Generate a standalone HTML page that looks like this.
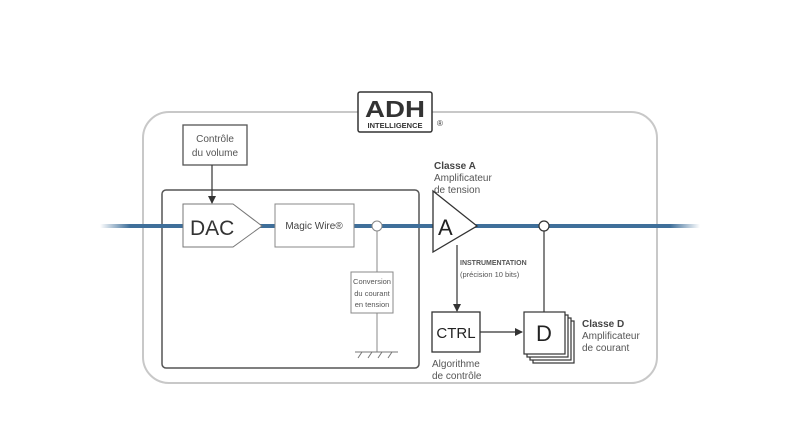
<!DOCTYPE html>
<html><head><style>
body{margin:0;background:#fff;}
svg text{font-family:"Liberation Sans",sans-serif;}
</style></head><body>
<svg width="800" height="425" viewBox="0 0 800 425" xmlns="http://www.w3.org/2000/svg">
<defs>
<linearGradient id="bl" x1="100" x2="700" y1="0" y2="0" gradientUnits="userSpaceOnUse">
<stop offset="0" stop-color="#3f6f9a" stop-opacity="0"/>
<stop offset="0.05" stop-color="#3f6f9a"/>
<stop offset="0.95" stop-color="#3f6f9a"/>
<stop offset="1" stop-color="#3f6f9a" stop-opacity="0"/>
</linearGradient>
<marker id="ar" markerWidth="8" markerHeight="8" refX="7" refY="4" orient="auto" markerUnits="userSpaceOnUse">
<path d="M0,0 L8,4 L0,8 z" fill="#333"/></marker>
</defs>
<rect x="143" y="112" width="514" height="271" rx="26" fill="none" stroke="#c8c8c8" stroke-width="2"/>
<rect x="162" y="190" width="257" height="178" rx="4" fill="none" stroke="#555" stroke-width="1.5"/>
<rect x="100" y="224" width="600" height="4" fill="url(#bl)"/>
<!-- logo -->
<rect x="358" y="92" width="74" height="40" rx="2" fill="#fff" stroke="#333" stroke-width="1.5"/>
<text x="395" y="117" font-size="23" font-weight="bold" text-anchor="middle" fill="#333" textLength="60" lengthAdjust="spacingAndGlyphs">ADH</text>
<text x="395" y="128" font-size="7.5" font-weight="bold" text-anchor="middle" fill="#333">INTELLIGENCE</text>
<text x="440" y="126" font-size="8" fill="#333" text-anchor="middle">®</text>
<!-- controle -->
<rect x="183" y="125" width="64" height="40" fill="#fff" stroke="#555" stroke-width="1.3"/>
<text x="215" y="142" font-size="10" text-anchor="middle" fill="#555">Contrôle</text>
<text x="215" y="156" font-size="10" text-anchor="middle" fill="#555">du volume</text>
<line x1="212" y1="165" x2="212" y2="203" stroke="#333" stroke-width="1.2" marker-end="url(#ar)"/>
<!-- DAC -->
<path d="M183,204 L233,204 L262,226 L233,247 L183,247 z" fill="#fff" stroke="#777" stroke-width="1"/>
<text x="190" y="235" font-size="21" fill="#333">DAC</text>
<rect x="275" y="204" width="79" height="43" fill="#fff" stroke="#888" stroke-width="1"/>
<text x="314" y="229" font-size="10" text-anchor="middle" fill="#444">Magic Wire®</text>
<line x1="377" y1="226" x2="377" y2="352" stroke="#888" stroke-width="1"/>
<circle cx="377" cy="226" r="5" fill="#fff" stroke="#888" stroke-width="1"/>
<rect x="351" y="272" width="42" height="41" fill="#fff" stroke="#888" stroke-width="1"/>
<text x="372" y="284" font-size="7.5" text-anchor="middle" fill="#555">Conversion</text>
<text x="372" y="296" font-size="7.5" text-anchor="middle" fill="#555">du courant</text>
<text x="372" y="307" font-size="7.5" text-anchor="middle" fill="#555">en tension</text>
<line x1="355" y1="352" x2="398" y2="352" stroke="#777" stroke-width="1"/>
<path d="M358,358 L362,352 M368,358 L372,352 M378,358 L382,352 M388,358 L392,352" stroke="#777" stroke-width="1"/>
<!-- A -->
<text x="434" y="169" font-size="10" font-weight="bold" fill="#444">Classe A</text>
<text x="434" y="181" font-size="10" fill="#555">Amplificateur</text>
<text x="434" y="193" font-size="10" fill="#555">de tension</text>
<path d="M433,191 L477,226 L433,252 z" fill="#fff" stroke="#333" stroke-width="1.3"/>
<text x="438" y="235" font-size="22" fill="#222">A</text>
<line x1="457" y1="245" x2="457" y2="311" stroke="#333" stroke-width="1.2" marker-end="url(#ar)"/>
<text x="460" y="265" font-size="7" font-weight="bold" fill="#555">INSTRUMENTATION</text>
<text x="460" y="277" font-size="7.5" fill="#555">(précision 10 bits)</text>
<rect x="432" y="312" width="48" height="40" fill="#fff" stroke="#333" stroke-width="1.3"/>
<text x="456" y="338" font-size="15" text-anchor="middle" fill="#222">CTRL</text>
<text x="432" y="367" font-size="10" fill="#555">Algorithme</text>
<text x="432" y="379" font-size="10" fill="#555">de contrôle</text>
<line x1="480" y1="332" x2="522" y2="332" stroke="#333" stroke-width="1.2" marker-end="url(#ar)"/>
<!-- D -->
<line x1="544" y1="226" x2="544" y2="312" stroke="#333" stroke-width="1.2"/>
<circle cx="544" cy="226" r="5" fill="#fff" stroke="#333" stroke-width="1.2"/>
<rect x="533" y="321" width="41" height="42" fill="#fff" stroke="#333" stroke-width="1.2"/>
<rect x="530" y="318" width="41" height="42" fill="#fff" stroke="#333" stroke-width="1.2"/>
<rect x="527" y="315" width="41" height="42" fill="#fff" stroke="#333" stroke-width="1.2"/>
<rect x="524" y="312" width="41" height="42" fill="#fff" stroke="#333" stroke-width="1.2"/>
<text x="544" y="341" font-size="22" text-anchor="middle" fill="#222">D</text>
<text x="582" y="327" font-size="10" font-weight="bold" fill="#444">Classe D</text>
<text x="582" y="339" font-size="10" fill="#555">Amplificateur</text>
<text x="582" y="351" font-size="10" fill="#555">de courant</text>
</svg>
</body></html>
